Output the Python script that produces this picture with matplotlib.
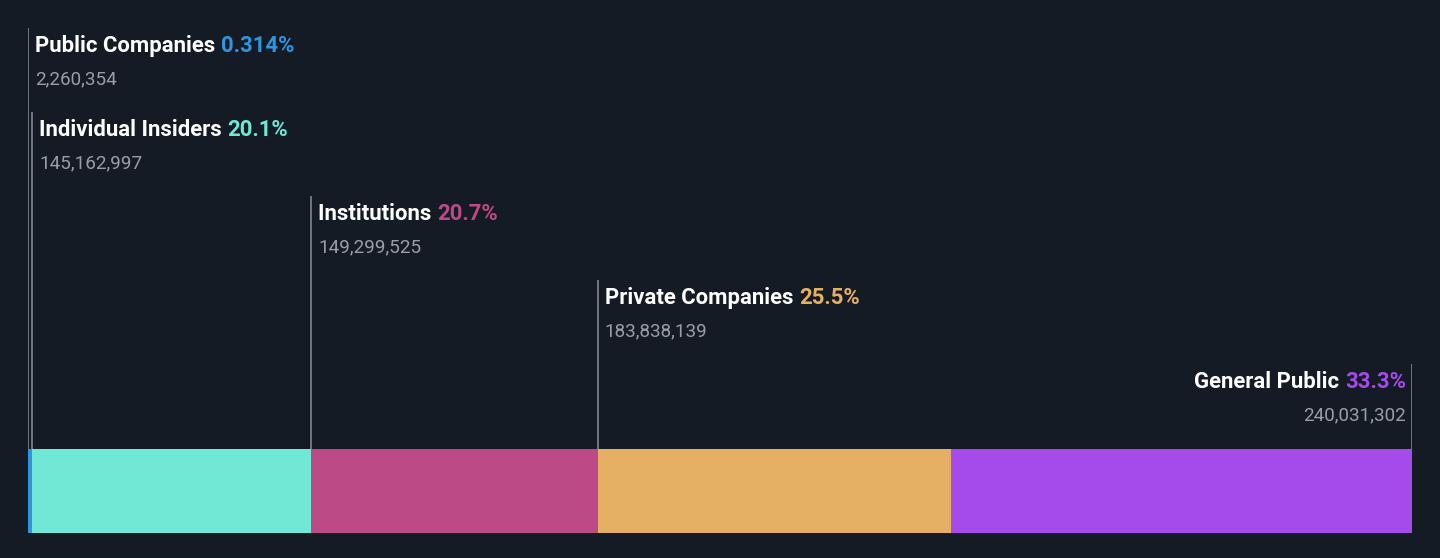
import matplotlib
matplotlib.use("Agg")
import matplotlib.pyplot as plt
from matplotlib.transforms import offset_copy

# ownership breakdown
categories = ["Public Companies", "Individual Insiders", "Institutions",
              "Private Companies", "General Public"]
shares = [2260354, 145162997, 149299525, 183838139, 240031302]
pct_labels = ["0.314%", "20.1%", "20.7%", "25.5%", "33.3%"]
colors = ["#2e95e0", "#71e7d6", "#bb4a86", "#e5b064", "#a54bec"]

BG = "#151b24"
W, H = 1440, 558
TITLE_FS = 15.9
VALUE_FS = 13.6

plt.rcParams['font.family'] = ['Roboto', 'DejaVu Sans']

fig = plt.figure(figsize=(W / 100, H / 100), dpi=100, facecolor=BG)
ax = fig.add_axes([28 / W, 0, 1384 / W, 1])
ax.set_facecolor(BG)
total = sum(shares)
ax.set_xlim(0, total)
ax.set_ylim(H, 0)  # y in pixel rows from top
ax.axis('off')

bar_top, bar_bot = 449, 533
left = 0
for i, (cat, val, pct, col) in enumerate(zip(categories, shares, pct_labels, colors)):
    ax.barh((bar_top + bar_bot) / 2, val, left=left, height=bar_bot - bar_top,
            color=col, edgecolor='none')

    last = i == len(categories) - 1
    xline = left + val if last else left
    line_top = 28 + 84 * i
    ax.plot([xline, xline], [line_top, bar_top], color="#8a9097", lw=1.1,
            solid_capstyle='butt', zorder=1)

    if last:
        tr = offset_copy(ax.transData, fig=fig, x=-6, y=0, units='dots')
        ha = 'right'
    else:
        tr = offset_copy(ax.transData, fig=fig, x=7, y=0, units='dots')
        ha = 'left'

    fig.canvas.draw()
    if last:
        # right aligned: percentage at the edge, name to its left
        tp = ax.text(xline, line_top + 24, pct, transform=tr, ha='right', va='baseline',
                     fontsize=TITLE_FS, fontweight='bold', color=col)
        fig.canvas.draw()
        bb = tp.get_window_extent()
        ax.text(bb.x0, bb.y0, cat + " ", transform=None, ha='right', va='bottom',
                fontsize=TITLE_FS, fontweight='bold', color='white')
    else:
        t = ax.text(xline, line_top + 24, cat + " ", transform=tr, ha='left', va='baseline',
                    fontsize=TITLE_FS, fontweight='bold', color='white')
        fig.canvas.draw()
        bb = t.get_window_extent()
        ax.text(bb.x1, bb.y0, pct, transform=None, ha='left', va='bottom',
                fontsize=TITLE_FS, fontweight='bold', color=col)

    ax.text(xline, line_top + 56, f"{val:,}", transform=tr, ha=ha, va='baseline',
            fontsize=VALUE_FS, color="#9a9ea4")
    left += val

fig.savefig("out.png", dpi=100, facecolor=BG)
